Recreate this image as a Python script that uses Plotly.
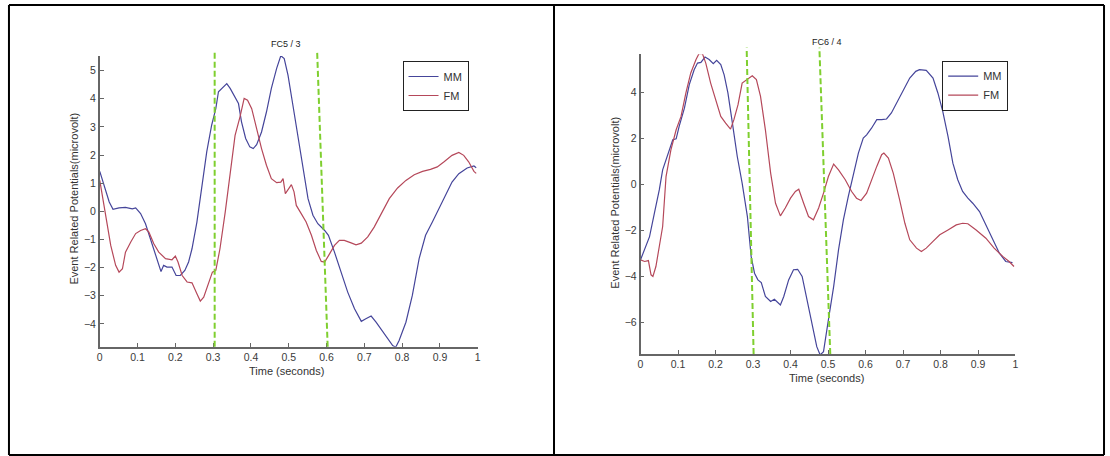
import plotly.graph_objects as go

W, H = 1110, 456

# ---------------- data: FC5 / 3 ----------------
fc5_mm_t = [0.0, 0.011, 0.025, 0.035, 0.051, 0.068, 0.086, 0.095, 0.108, 0.121, 0.134, 0.147, 0.162,
            0.169, 0.178, 0.191, 0.202, 0.213, 0.225, 0.235, 0.244, 0.257, 0.27, 0.283, 0.296, 0.307,
            0.314, 0.327, 0.336, 0.345, 0.358, 0.367, 0.375, 0.386, 0.397, 0.406, 0.415, 0.428, 0.441,
            0.454, 0.468, 0.479, 0.488, 0.498, 0.511, 0.525, 0.538, 0.551, 0.564, 0.577, 0.595, 0.605,
            0.621, 0.639, 0.656, 0.674, 0.692, 0.704, 0.718, 0.731, 0.744, 0.761, 0.775, 0.783, 0.792,
            0.81, 0.827, 0.845, 0.862, 0.88, 0.897, 0.915, 0.932, 0.95, 0.972, 0.99, 0.996]
fc5_mm_v = [1.42, 0.93, 0.33, 0.07, 0.12, 0.14, 0.09, 0.12, -0.08, -0.44, -0.97, -1.57, -2.14,
            -1.92, -1.98, -1.98, -2.28, -2.28, -2.10, -1.80, -1.33, -0.38, 0.81, 2.11, 3.06, 3.65,
            4.25, 4.42, 4.54, 4.37, 4.07, 3.83, 3.18, 2.59, 2.29, 2.23, 2.37, 2.82, 3.53,
            4.37, 5.08, 5.53, 5.43, 4.84, 3.77, 2.59, 1.40, 0.45, -0.14, -0.44, -0.68, -0.85,
            -1.45, -2.16, -2.87, -3.46, -3.91, -3.82, -3.72, -3.94, -4.18, -4.47, -4.77, -4.83, -4.59,
            -3.94, -2.99, -1.68, -0.85, -0.38, 0.09, 0.57, 1.04, 1.34, 1.54, 1.61, 1.55]

fc5_fm_t = [0.0, 0.007, 0.016, 0.029, 0.042, 0.051, 0.06, 0.068, 0.082, 0.095, 0.108, 0.121, 0.13,
            0.143, 0.156, 0.174, 0.191, 0.2, 0.207, 0.218, 0.231, 0.244, 0.257, 0.266, 0.275, 0.288,
            0.298, 0.307, 0.318, 0.332, 0.345, 0.358, 0.371, 0.382, 0.391, 0.402, 0.415, 0.428, 0.441,
            0.454, 0.468, 0.479, 0.485, 0.491, 0.5, 0.507, 0.514, 0.52, 0.533, 0.546, 0.56, 0.573,
            0.586, 0.595, 0.608, 0.621, 0.634, 0.647, 0.665, 0.678, 0.692, 0.709, 0.726, 0.744, 0.766,
            0.788, 0.81, 0.832, 0.854, 0.875, 0.893, 0.911, 0.932, 0.95, 0.963, 0.976, 0.99, 0.996]
fc5_fm_v = [1.10, 0.57, -0.26, -1.21, -1.92, -2.16, -2.04, -1.45, -1.09, -0.79, -0.68, -0.62, -0.74,
            -1.15, -1.45, -1.68, -1.72, -1.59, -1.80, -2.28, -2.51, -2.54, -2.93, -3.19, -3.05, -2.57,
            -2.16, -2.10, -1.33, -0.02, 1.40, 2.70, 3.36, 4.01, 3.95, 3.65, 2.94, 2.23, 1.64,
            1.16, 1.02, 1.04, 1.16, 0.63, 0.81, 0.95, 0.69, 0.21, -0.08, -0.38, -0.85, -1.39,
            -1.78, -1.80, -1.51, -1.21, -1.03, -1.03, -1.12, -1.19, -1.13, -0.91, -0.56, -0.08, 0.45,
            0.83, 1.10, 1.30, 1.42, 1.49, 1.58, 1.76, 1.99, 2.09, 1.99, 1.76, 1.42, 1.35]

# ---------------- data: FC6 / 4 ----------------
fc6_mm_t = [0.0, 0.011, 0.024, 0.037, 0.05, 0.059, 0.073, 0.086, 0.095, 0.103, 0.117, 0.13, 0.143,
            0.152, 0.161, 0.172, 0.183, 0.194, 0.203, 0.214, 0.223, 0.233, 0.245, 0.258, 0.271, 0.285,
            0.295, 0.304, 0.313, 0.322, 0.333, 0.347, 0.357, 0.364, 0.373, 0.382, 0.395, 0.408, 0.419,
            0.431, 0.444, 0.457, 0.47, 0.479, 0.488, 0.501, 0.515, 0.528, 0.541, 0.554, 0.568, 0.581,
            0.594, 0.603, 0.616, 0.63, 0.643, 0.656, 0.669, 0.683, 0.7, 0.718, 0.734, 0.744, 0.762,
            0.78, 0.793, 0.806, 0.82, 0.833, 0.846, 0.859, 0.873, 0.886, 0.904, 0.921, 0.939, 0.957,
            0.974, 0.992]
fc6_mm_v = [-3.29, -2.86, -2.28, -1.26, -0.25, 0.62, 1.28, 1.93, 1.97, 2.51, 3.30, 4.32, 4.97,
            5.26, 5.29, 5.52, 5.41, 5.23, 5.38, 5.19, 4.75, 3.96, 2.65, 1.20, 0.04, -1.41,
            -3.14, -3.87, -4.16, -4.28, -4.88, -5.10, -5.00, -5.10, -5.25, -4.88, -4.16, -3.72, -3.70,
            -4.01, -5.03, -6.04, -7.06, -7.42, -7.28, -5.90, -4.45, -2.86, -1.55, -0.54, 0.48, 1.35,
            2.00, 2.14, 2.43, 2.80, 2.80, 2.83, 3.09, 3.52, 4.10, 4.61, 4.90, 4.97, 4.94,
            4.61, 3.96, 3.16, 2.07, 0.91, 0.19, -0.32, -0.61, -0.83, -1.19, -1.77, -2.42, -3.00,
            -3.36, -3.41]

fc6_fm_t = [0.0, 0.011, 0.021, 0.028, 0.033, 0.041, 0.05, 0.059, 0.068, 0.081, 0.095, 0.108, 0.121,
            0.134, 0.148, 0.156, 0.165, 0.174, 0.187, 0.201, 0.214, 0.227, 0.24, 0.249, 0.26, 0.271,
            0.285, 0.298, 0.309, 0.32, 0.333, 0.347, 0.36, 0.373, 0.386, 0.4, 0.413, 0.422, 0.435,
            0.448, 0.461, 0.475, 0.488, 0.501, 0.515, 0.528, 0.546, 0.563, 0.576, 0.588, 0.603, 0.616,
            0.63, 0.643, 0.649, 0.661, 0.674, 0.691, 0.705, 0.718, 0.736, 0.749, 0.762, 0.78, 0.798,
            0.82, 0.842, 0.859, 0.873, 0.895, 0.921, 0.943, 0.966, 0.983, 0.996]
fc6_fm_v = [-3.29, -3.36, -3.32, -3.94, -4.01, -3.58, -2.71, -1.84, 0.33, 1.49, 2.36, 2.94, 3.96,
            4.83, 5.41, 5.67, 5.67, 5.26, 4.39, 3.59, 2.94, 2.65, 2.39, 2.80, 3.45, 4.39,
            4.57, 4.71, 4.54, 3.81, 2.36, 0.48, -0.83, -1.38, -1.04, -0.61, -0.32, -0.22, -0.83,
            -1.41, -1.55, -1.04, -0.39, 0.33, 0.87, 0.62, 0.19, -0.32, -0.61, -0.71, -0.39, 0.19,
            0.77, 1.28, 1.35, 1.13, 0.48, -0.68, -1.70, -2.42, -2.78, -2.93, -2.78, -2.49, -2.20,
            -1.99, -1.77, -1.70, -1.72, -1.99, -2.35, -2.78, -3.14, -3.36, -3.58]

# time-window markers (green dashed lines): x at bottom / x at top, top value in microvolt
fc5_win_x_bottom = [0.304, 0.603]
fc5_win_x_top = [0.304, 0.575]
fc5_win_top_v = 5.73
fc6_win_x_bottom = [0.3016, 0.506]
fc6_win_x_top = [0.283, 0.477]
fc6_win_top_v = 5.93

x_ticks = [0, 0.1, 0.2, 0.3, 0.4, 0.5, 0.6, 0.7, 0.8, 0.9, 1]
x_ticklabels = ["0", "0.1", "0.2", "0.3", "0.4", "0.5", "0.6", "0.7", "0.8", "0.9", "1"]
fc5_y_ticks = [-4, -3, -2, -1, 0, 1, 2, 3, 4, 5]
fc6_y_ticks = [-6, -4, -2, 0, 2, 4]
fc5_yrange = [-4.81, 5.52]
fc6_yrange = [-7.38, 5.64]

titles = ["FC5 / 3", "FC6 / 4"]
series_names = ["MM", "FM"]
x_title = "Time (seconds)"
y_title = "Event Related Potentials(microvolt)"

MM_COLOR = "#45459a"
FM_COLOR = "#b5485a"
GREEN = "#7fcf2f"
AX = "#666666"
FONT = "Liberation Sans, Arial, sans-serif"

fig = go.Figure()
fig.add_trace(go.Scatter(x=fc5_mm_t, y=fc5_mm_v, mode="lines", name=series_names[0],
                         line=dict(color=MM_COLOR, width=1.2), xaxis="x", yaxis="y", legend="legend"))
fig.add_trace(go.Scatter(x=fc5_fm_t, y=fc5_fm_v, mode="lines", name=series_names[1],
                         line=dict(color=FM_COLOR, width=1.2), xaxis="x", yaxis="y", legend="legend"))
fig.add_trace(go.Scatter(x=fc6_mm_t, y=fc6_mm_v, mode="lines", name=series_names[0],
                         line=dict(color=MM_COLOR, width=1.2), xaxis="x2", yaxis="y2", legend="legend2"))
fig.add_trace(go.Scatter(x=fc6_fm_t, y=fc6_fm_v, mode="lines", name=series_names[1],
                         line=dict(color=FM_COLOR, width=1.2), xaxis="x2", yaxis="y2", legend="legend2"))

def xax(domain, anchor):
    return dict(domain=domain, anchor=anchor, range=[0, 1], tickmode="array", tickvals=x_ticks,
                ticktext=x_ticklabels, ticks="inside", ticklen=4, tickcolor=AX, showline=True,
                linecolor=AX, linewidth=1.5, showgrid=False, zeroline=False,
                tickfont=dict(family=FONT, size=10.5, color="#3a3a3a"))

def yax(domain, anchor, rng, tv):
    return dict(domain=domain, anchor=anchor, range=rng, tickmode="array", tickvals=tv,
                ticks="inside", ticklen=4, tickcolor=AX, showline=True,
                linecolor=AX, linewidth=1.5, showgrid=False, zeroline=False,
                tickfont=dict(family=FONT, size=10.5, color="#3a3a3a"))

shapes = []
def px(x):
    return x / W
def py(y):
    return 1 - y / H
# panel frames
for (x0, y0, x1, y1) in [(6, 5, 1107, 5), (6, 455, 1107, 455), (6, 5, 6, 455), (554, 5, 554, 455), (1107, 5, 1107, 455)]:
    shapes.append(dict(type="line", xref="paper", yref="paper", x0=px(x0), y0=py(y0), x1=px(x1), y1=py(y1),
                       line=dict(color="black", width=2)))

def win_lines(xb, xt, top_v, rng, xr, yr):
    top_frac = (top_v - rng[0]) / (rng[1] - rng[0])
    for b, t in zip(xb, xt):
        shapes.append(dict(type="line", xref=xr, yref=yr, x0=b, y0=0, x1=t, y1=top_frac,
                           line=dict(color=GREEN, width=2, dash="6px,3px"), layer="above"))

win_lines(fc5_win_x_bottom, fc5_win_x_top, fc5_win_top_v, fc5_yrange, "x domain", "y domain")
win_lines(fc6_win_x_bottom, fc6_win_x_top, fc6_win_top_v, fc6_yrange, "x2 domain", "y2 domain")

def ann(text, x, y, size, color, angle=0):
    return dict(text=text, x=px(x), y=py(y), xref="paper", yref="paper", showarrow=False,
                xanchor="center", yanchor="middle", textangle=angle,
                font=dict(family=FONT, size=size, color=color))

annotations = [
    ann(titles[0], 285, 44, 9, "#222"),
    ann(titles[1], 828, 42, 9, "#222"),
    ann(x_title, 285, 370.5, 11, "#333"),
    ann(x_title, 828, 378, 11, "#333"),
    ann(y_title, 71, 199, 11, "#333", -90),
    ann(y_title, 615, 203, 11, "#333", -90),
]

leg = dict(xanchor="left", yanchor="top", bgcolor="white", bordercolor="#222", borderwidth=1,
           font=dict(family=FONT, size=11, color="#333"), tracegroupgap=0)

fig.update_layout(
    width=W, height=H, autosize=False,
    margin=dict(l=0, r=0, t=0, b=0),
    paper_bgcolor="white", plot_bgcolor="rgba(0,0,0,0)",
    xaxis=xax([px(97.3), px(477.3)], "y"),
    yaxis=yax([py(346.7), py(56)], "x", fc5_yrange, fc5_y_ticks),
    xaxis2=xax([px(641), px(1018)], "y2"),
    yaxis2=yax([py(354), py(54.3)], "x2", fc6_yrange, fc6_y_ticks),
    legend=dict(leg, x=px(401.7), y=py(61)),
    legend2=dict(leg, x=px(944.3), y=py(60.7)),
    shapes=shapes,
    annotations=annotations,
    showlegend=True,
)

fig.write_html("out.html")
